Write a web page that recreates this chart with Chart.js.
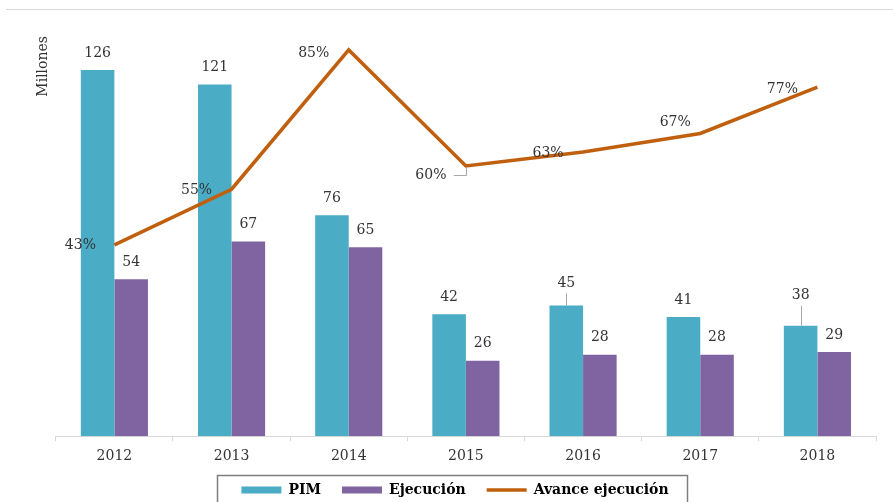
<!DOCTYPE html>
<html>
<head>
<meta charset="utf-8">
<script src="https://cdn.jsdelivr.net/npm/chart.js@4.4.0/dist/chart.umd.min.js"></script>
<style>
  html, body { margin: 0; padding: 0; background: #fff; overflow: hidden; }
  #wrap { position: relative; width: 893px; height: 517px; }
  #topline { position: absolute; left: 6px; right: 0; top: 9px; height: 1px; background: #d9d9d9; }
</style>
</head>
<body>
<div id="wrap">
  <div id="topline"></div>
  <canvas id="myChart"></canvas>
</div>
<script>
const years = ["2012", "2013", "2014", "2015", "2016", "2017", "2018"];
const pim = [126, 121, 76, 42, 45, 41, 38];
const ejecucion = [54, 67, 65, 26, 28, 28, 29];
const avance = [43, 55, 85, 60, 63, 67, 77];

// where each label sits relative to its mark
const pimLabelLift = [17, 17, 17, 17, 22, 17, 30];
const ejecLabelLift = [17, 17, 17, 17, 17, 17, 17];
const pctOffsets = [[-34, 0], [-35, 1], [-35, 3], [-35, 9, true], [-35, 1], [-25, -11], [-35, 2]];

const textColor = "#333333";
const serif = "'DejaVu Serif', serif";

Chart.defaults.font.family = serif;
Chart.defaults.color = textColor;

const valueLabels = {
  id: "valueLabels",
  afterDatasetsDraw(chart) {
    const ctx = chart.ctx;
    ctx.save();
    ctx.font = "14px " + serif;
    ctx.textAlign = "center";
    ctx.textBaseline = "middle";
    chart.data.datasets.forEach((ds, i) => {
      const meta = chart.getDatasetMeta(i);
      meta.data.forEach((el, j) => {
        const v = ds.data[j];
        ctx.strokeStyle = "#a6a6a6";
        ctx.lineWidth = 1;
        if (ds.type === "line") {
          const off = pctOffsets[j];
          const tx = el.x + off[0];
          const ty = el.y + off[1];
          if (off[2]) {
            ctx.beginPath();
            ctx.moveTo(tx + 23, ty + 0.5);
            ctx.lineTo(Math.round(el.x) + 0.5, ty + 0.5);
            ctx.lineTo(Math.round(el.x) + 0.5, el.y + 1);
            ctx.stroke();
          }
          ctx.fillStyle = textColor;
          ctx.fillText(v + "%", tx, ty);
        } else {
          const lift = ds.labelLift[j];
          const ty = el.y - lift;
          if (lift > 20) {
            ctx.beginPath();
            ctx.moveTo(Math.round(el.x) + 0.5, ty + 10);
            ctx.lineTo(Math.round(el.x) + 0.5, el.y);
            ctx.stroke();
          }
          ctx.fillStyle = textColor;
          ctx.fillText(String(v), el.x, ty);
        }
      });
    });
    ctx.restore();
  }
};

// pull the legend a bit closer to the axis and frame it
const legendFrame = {
  id: "legendFrame",
  afterLayout(chart) {
    chart.legend.top -= 10;
    chart.legend.bottom -= 10;
  },
  afterDraw(chart) {
    const boxes = chart.legend.legendHitBoxes;
    if (!boxes || !boxes.length) return;
    const left = Math.min(...boxes.map(b => b.left));
    const right = Math.max(...boxes.map(b => b.left + b.width));
    const mid = boxes[0].top + boxes[0].height / 2;
    const ctx = chart.ctx;
    ctx.save();
    ctx.strokeStyle = "#7f7f7f";
    ctx.lineWidth = 1.5;
    ctx.strokeRect(Math.round(left - 24) + 0.5, Math.round(mid - 15) + 0.5, Math.round(right - left + 43), 34);
    ctx.restore();
  }
};

new Chart("myChart", {
  type: "bar",
  data: {
    labels: years,
    datasets: [
      {
        label: "PIM",
        data: pim,
        backgroundColor: "#4BACC6",
        labelLift: pimLabelLift,
        categoryPercentage: 0.573,
        barPercentage: 1,
        order: 1,
      },
      {
        label: "Ejecución",
        data: ejecucion,
        backgroundColor: "#8064A2",
        labelLift: ejecLabelLift,
        categoryPercentage: 0.573,
        barPercentage: 1,
        order: 1,
      },
      {
        type: "line",
        label: "Avance ejecución",
        data: avance,
        yAxisID: "y1",
        borderColor: "#C0600F",
        backgroundColor: "#C0600F",
        borderWidth: 3.5,
        pointRadius: 0,
        tension: 0,
        order: 0,
      },
    ],
  },
  options: {
    responsive: true,
    maintainAspectRatio: false,
    animation: false,
    layout: { padding: { top: 36, right: 17, left: 34, bottom: 0 } },
    plugins: {
      tooltip: { enabled: false },
      legend: {
        position: "bottom",
        labels: {
          usePointStyle: true,
          pointStyleWidth: 40,
          boxWidth: 40,
          boxHeight: 7,
          padding: 21,
          color: "#000",
          font: { size: 14, weight: "bold", family: serif },
          sort: (a, b) => a.datasetIndex - b.datasetIndex,
          generateLabels(chart) {
            const items = Chart.defaults.plugins.legend.labels.generateLabels(chart);
            items.forEach(it => {
              const ds = chart.data.datasets[it.datasetIndex];
              it.pointStyle = ds.type === "line" ? "line" : "rect";
              if (ds.type !== "line") it.lineWidth = 0;
            });
            return items;
          },
        },
      },
    },
    scales: {
      x: {
        grid: { offset: true, drawOnChartArea: false, drawTicks: true, tickLength: 5, color: "#d9d9d9" },
        border: { color: "#d9d9d9", width: 1 },
        ticks: { font: { size: 14 }, color: textColor, padding: 7 },
      },
      y: {
        min: 0,
        max: 137.7,
        grid: { display: false, drawTicks: false },
        border: { display: false },
        ticks: { display: false },
        title: {
          display: true,
          text: "Millones",
          align: "end",
          font: { size: 14 },
          color: textColor,
          padding: { top: 1, bottom: 4 },
        },
      },
      y1: {
        display: false,
        min: 1.8,
        max: 88.0,
        position: "right",
      },
    },
  },
  plugins: [valueLabels, legendFrame],
});
</script>
</body>
</html>
